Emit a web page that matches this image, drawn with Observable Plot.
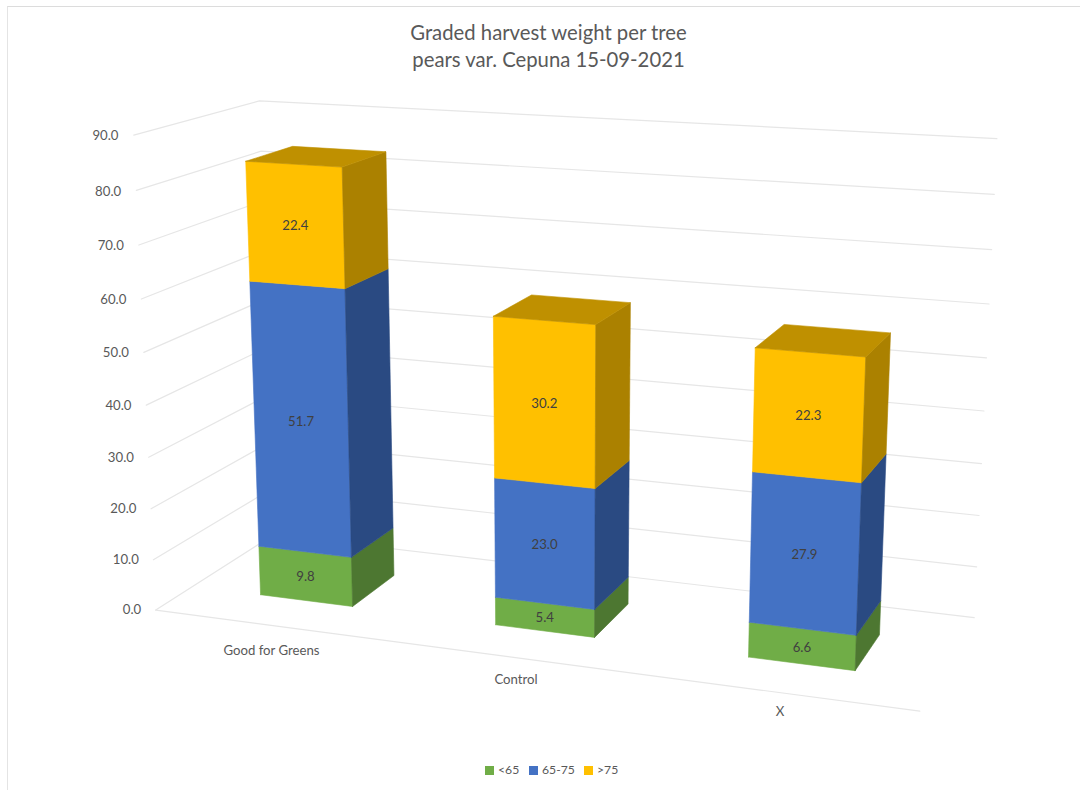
<!DOCTYPE html>
<html><head><meta charset="utf-8">
<script src="https://cdn.jsdelivr.net/npm/d3@7"></script>
<script src="https://cdn.jsdelivr.net/npm/@observablehq/plot@0.6"></script>
<style>
html,body{margin:0;background:#fff}
#page{position:relative;width:1080px;height:790px;overflow:hidden;font-family:Lato,"Open Sans",sans-serif;color:#595959}
#frame{position:absolute;left:7px;top:6px;width:1090px;height:800px;border-top:1px solid #dcdcdc;border-left:1px solid #e4e4e4;pointer-events:none}
#title{height:90px;box-sizing:border-box;padding:19px 0 0 17px;text-align:center;font-size:20.3px;line-height:27px}
#chart svg{display:block}
#legend{position:relative;height:45px;font-size:12.2px}
.item{position:absolute;top:18px;display:flex;align-items:center;gap:4px;line-height:14px}
.swatch{width:9px;height:9px;display:inline-block}
</style></head>
<body>
<div id="page">
  <div id="frame"></div>
  <div id="title">Graded harvest weight per tree<br>pears var. Cepuna 15-09-2021</div>
  <div id="chart"></div>
  <div id="legend"></div>
</div>
<script>
// ---- chart values ----
const categories = ["Good for Greens", "Control", "X"];
const seriesNames = ["<65", "65-75", ">75"];
const under65 = [9.8, 5.4, 6.6];
const from65to75 = [51.7, 23.0, 27.9];
const over75 = [22.4, 30.2, 22.3];
const valueTicks = [0, 10, 20, 30, 40, 50, 60, 70, 80, 90];

// ---- styles ----
const frontColors = ["#70AD47", "#4472C4", "#FFC000"];
const sideColors = ["#4D7731", "#2A4A82", "#AB8100"];
const topColor = "#BF9000";
const gridColor = "#E6E6E6";
const textColor = "#595959";
const labelColor = "#404040";

// ---- 3D camera of the chart (u: columns, v: value, w: depth) ----
const camera = [87.06772, -3.147037, 55.74079, 260.0677,
                3.229770, -52.56664, -8.660042, 594.2194,
                -0.01406688, -0.005622539, 0.03804605];
function project(u, value, w) {
  const v = value / 10, c = camera;
  const d = c[8] * u + c[9] * v + c[10] * w + 1;
  return {x: (c[0] * u + c[1] * v + c[2] * w + c[3]) / d,
          y: (c[4] * u + c[5] * v + c[6] * w + c[7]) / d};
}
const columnStep = 2.5, wallLeft = -0.75, wallRight = 6.75, floorFront = -0.76, wallBack = 1.79;

// ---- derived geometry ----
const stacks = categories.map((name, i) => {
  let base = 0;
  return [under65[i], from65to75[i], over75[i]].map((value, s) => {
    const seg = {i, s, value, lo: base, hi: base + value};
    base += value;
    return seg;
  });
});
const faces = [];
function addFace(id, color, corners) {
  for (const [u, v, w] of [...corners, corners[0]]) faces.push({id, color, ...project(u, v, w)});
}
for (const stack of stacks) for (const seg of stack) {
  const a = seg.i * columnStep, b = a + 1, key = `${seg.i}-${seg.s}`;
  addFace(`front${key}`, frontColors[seg.s], [[a, seg.lo, 0], [b, seg.lo, 0], [b, seg.hi, 0], [a, seg.hi, 0]]);
  addFace(`side${key}`, sideColors[seg.s], [[b, seg.lo, 0], [b, seg.lo, 1], [b, seg.hi, 1], [b, seg.hi, 0]]);
  if (seg.s === 2) addFace(`top${key}`, topColor, [[a, seg.hi, 0], [b, seg.hi, 0], [b, seg.hi, 1], [a, seg.hi, 1]]);
}
const grid = [];
for (const t of valueTicks) {
  grid.push({id: `g${t}`, ...project(wallLeft, t, floorFront)},
            {id: `g${t}`, ...project(wallLeft, t, wallBack)},
            {id: `g${t}`, ...project(wallRight, t, wallBack)});
}
grid.push({id: "front", ...project(wallLeft, 0, floorFront)}, {id: "front", ...project(wallRight, 0, floorFront)});

const valueLabels = stacks.flat().map(seg => ({
  text: seg.value.toFixed(1),
  ...project(seg.i * columnStep + 0.5, (seg.lo + seg.hi) / 2, 0)
}));
const tickLabels = valueTicks.map(t => ({text: t.toFixed(1), ...project(wallLeft - 0.16, t, floorFront)}));
const categoryLabels = categories.map((text, i) => {
  const p = project(i * columnStep + 0.5, 0, floorFront);
  return {text, x: p.x, y: p.y + 24 - 3 * i};
});

// ---- plot: the x and y scales carry the picture plane of the camera ----
const svgTop = 90, svgHeight = 655;
const plot = Plot.plot({
  width: 1080, height: svgHeight, margin: 0,
  style: {fontFamily: "Lato, 'Open Sans', sans-serif", background: "transparent"},
  x: {domain: [0, 1080], range: [0, 1080], axis: null},
  y: {domain: [svgTop, svgTop + svgHeight], range: [0, svgHeight], axis: null},
  color: {type: "identity"},
  marks: [
    Plot.line(grid, {x: "x", y: "y", z: "id", stroke: gridColor, strokeWidth: 1.2, curve: "linear"}),
    Plot.line(faces, {x: "x", y: "y", z: "id", fill: "color", stroke: "color", strokeWidth: 0.6, curve: "linear"}),
    Plot.text(tickLabels, {x: "x", y: "y", dy: 2, text: "text", textAnchor: "end", fontSize: 13.2, fill: textColor}),
    Plot.text(categoryLabels, {x: "x", y: "y", dy: 1, text: "text", fontSize: 13.2, fill: textColor}),
    Plot.text(valueLabels, {x: "x", y: "y", dy: 1, text: "text", fontSize: 13.2, fill: labelColor})
  ]
});
document.getElementById("chart").append(plot);

// ---- legend below the plot ----
const legend = document.getElementById("legend");
const legendLeft = [485, 529, 584];
seriesNames.forEach((name, s) => {
  const item = document.createElement("div");
  item.className = "item";
  item.style.left = legendLeft[s] + "px";
  const swatch = document.createElement("span");
  swatch.className = "swatch";
  swatch.style.background = frontColors[s];
  const label = document.createElement("span");
  label.textContent = name;
  item.append(swatch, label);
  legend.append(item);
});
</script>
</body></html>
